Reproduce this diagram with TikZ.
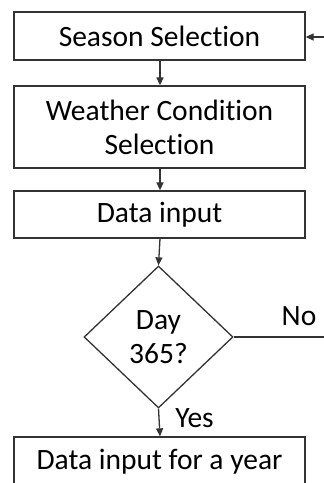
\documentclass[tikz,border=0pt]{standalone}
\usepackage{fontspec}
\setmainfont{Carlito}[Ligatures=NoCommon]
\usetikzlibrary{shapes.geometric,arrows.meta}
\begin{document}
\begin{tikzpicture}[x=1pt,y=-1pt,
  every node/.style={font=\fontsize{29.5}{34}\selectfont, text=black},
  linecol/.style={draw=black!80, line width=1.3pt},
  box/.style={linecol, rectangle, minimum width=291pt, inner sep=0pt, align=center},
  decision/.style={linecol, diamond, minimum width=149pt, minimum height=142pt, inner sep=0pt, align=center},
  flow/.style={linecol, -{Triangle[width=7pt,length=8pt]}},
  lbl/.style={inner sep=0pt}]
  \useasboundingbox (0,0) rectangle (324,483);
  \clip (0,0) rectangle (324,483);

  % process steps
  \node[box, minimum height=48pt] (season) at (159.5,36) {Season Selection};
  \node[box, minimum height=82pt] (weather) at (159.5,127) {Weather Condition\\Selection};
  \node[box, minimum height=47pt] (data) at (159.5,214.5) {Data input};
  \node[decision] (day) at (158.5,337) {Day\\365?};
  \node[box, minimum height=50pt] (year) at (159.5,462) {Data input for a year};

  % loop ends leaving the frame on the right
  \coordinate (loopin) at (325,37);
  \coordinate (loopout) at (325,337);

  % connectors
  \draw[flow] (season.south -| 160,0) -- (weather.north -| 160,0);
  \draw[flow] (weather.south -| 160,0) -- (data.north -| 160,0);
  \draw[flow] (data.south -| 160,0) -- (day.north);
  \draw[flow] (day.south) -- (year.north -| 160,0);
  \draw[linecol] (day.east) -- (loopout);
  \draw[flow] (loopin) -- (season.east |- loopin);

  % branch labels
  \node[lbl] (no) at (299,316) {No};
  \node[lbl] (yes) at (194.5,418) {Yes};
\end{tikzpicture}
\end{document}
